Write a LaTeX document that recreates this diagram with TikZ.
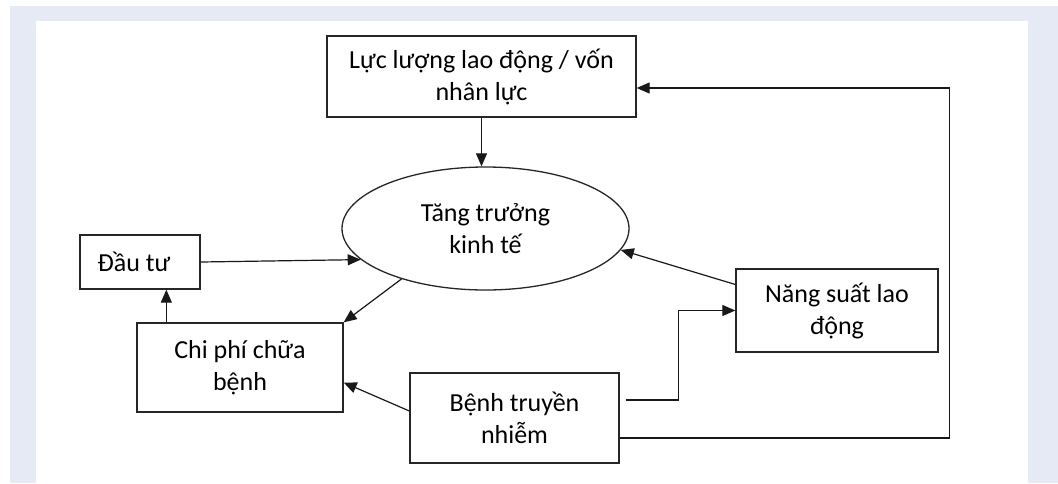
\documentclass[tikz,border=0pt]{standalone}
\usepackage{fontspec}
\setmainfont{Carlito}
\usetikzlibrary{shapes.geometric,arrows.meta,calc}
\definecolor{bgblue}{RGB}{230,234,245}
\begin{document}
\begin{tikzpicture}[x=1pt,y=-1pt,
  box/.style={draw=black!85,line width=1.3pt,fill=white,inner sep=0pt,align=center,
    font=\fontsize{26}{32}\selectfont},
  ell/.style={ellipse,draw=black!85,line width=1.3pt,fill=white,inner sep=0pt,align=center,
    font=\fontsize{26}{32}\selectfont},
  arr/.style={line width=1.2pt,draw=black!90,-{Triangle[length=13pt,width=11pt]}}]
\useasboundingbox (0,0) rectangle (1058,483);
\fill[bgblue] (10,6) rectangle (1058,483);
\fill[white] (36,21) rectangle (1028,483);

\node[box,minimum width=309,minimum height=81] (luc) at (481.5,76.5) {Lực lượng lao động / vốn\\nhân lực};
\node[ell,minimum width=287,minimum height=123] (tang) at (485.5,228.5) {Tăng trưởng\\kinh tế};
\node[box,minimum width=120,minimum height=54] (dautu) at (140,262) {Đầu tư\hspace*{12pt}};
\node[box,minimum width=206,minimum height=89] (chiphi) at (240,367.5) {Chi phí chữa\\bệnh};
\node[box,minimum width=202,minimum height=83] (nang) at (837,310.5) {Năng suất lao\\động};
\node[box,minimum width=209,minimum height=90] (benh) at (514.5,418) {Bệnh truyền\\nhiễm};

\draw[arr] (luc.south) -- (luc.south |- tang.north);
\draw[arr] (dautu.east) -- (tang.194);
\draw[arr] (tang.211) -- (chiphi.north east);
\draw[arr] ([xshift=30pt]chiphi.north west) -- ([xshift=30pt]chiphi.north west |- dautu.south);
\draw[arr] ([yshift=7pt]benh.west) -- ([yshift=-15pt]chiphi.east);
\draw[arr] ([yshift=26pt]nang.west) -- (tang.-9);
\draw[arr] ([xshift=6pt,yshift=18pt]benh.east) -| ([xshift=-57pt]nang.west) -- (nang.west);
\draw[arr] ([yshift=-20pt]benh.east) -| ([xshift=313pt,yshift=-11.5pt]luc.east) -- ([yshift=-11.5pt]luc.east);
\end{tikzpicture}
\end{document}
